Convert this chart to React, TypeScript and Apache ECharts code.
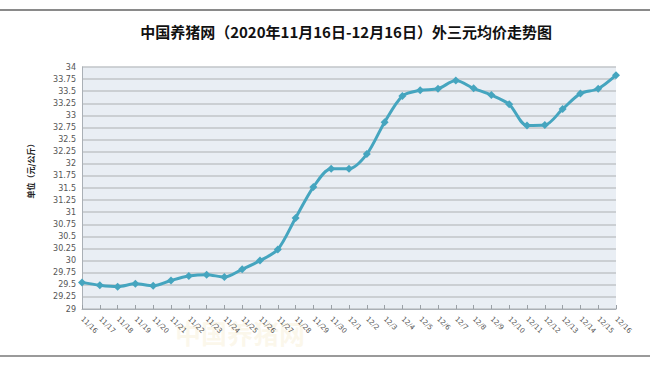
import React, { useEffect, useRef } from "react";
import * as echarts from "echarts";

const titleText = "中国养猪网（2020年11月16日-12月16日）外三元均价走势图";
const yAxisName = "单位（元/公斤）";
const categories = [
  "11/16", "11/17", "11/18", "11/19", "11/20", "11/21", "11/22", "11/23",
  "11/24", "11/25", "11/26", "11/27", "11/28", "11/29", "11/30", "12/1",
  "12/2", "12/3", "12/4", "12/5", "12/6", "12/7", "12/8", "12/9",
  "12/10", "12/11", "12/12", "12/13", "12/14", "12/15", "12/16",
];
const prices = [
  29.55, 29.49, 29.46, 29.52, 29.48, 29.59, 29.68, 29.71,
  29.66, 29.82, 30.0, 30.23, 30.88, 31.52, 31.9, 31.9,
  32.2, 32.86, 33.4, 33.52, 33.55, 33.72, 33.56, 33.42,
  33.23, 32.79, 32.8, 33.13, 33.45, 33.55, 33.83,
];
const yMin = 29;
const yMax = 34;
const yStep = 0.25;

export default function App() {
  const ref = useRef<HTMLDivElement>(null);
  useEffect(() => {
    if (!ref.current) return;
    const chart = echarts.init(ref.current, null, { renderer: "svg" });
    chart.setOption({
      animation: false,
      backgroundColor: "#ffffff",
      title: {
        text: titleText,
        left: 341,
        top: 19,
        textAlign: "center",
        textStyle: {
          fontSize: 15,
          fontWeight: "bold",
          color: "#111",
          fontFamily: "'Noto Sans CJK SC', sans-serif",
        },
      },
      grid: { left: 82, right: 34, top: 67, bottom: 57, show: true, backgroundColor: "#e9eef4", borderWidth: 0 },
      xAxis: {
        type: "category",
        data: categories,
        boundaryGap: false,
        axisLine: { lineStyle: { color: "#aab0b6", width: 1 } },
        axisTick: { show: true, inside: true, length: 4, lineStyle: { color: "#9aa0a6" } },
        axisLabel: {
          rotate: -45,
          interval: 0,
          fontSize: 7,
          color: "#555",
          margin: 9,
          fontFamily: "'DejaVu Sans', sans-serif",
        },
        splitLine: { show: false },
      },
      yAxis: {
        type: "value",
        min: yMin,
        max: yMax,
        interval: yStep,
        axisLine: { show: true, lineStyle: { color: "#aab0b6" } },
        axisTick: { show: false },
        axisLabel: {
          fontSize: 8,
          color: "#555",
          margin: 6,
          fontFamily: "'DejaVu Sans', sans-serif",
        },
        splitLine: { show: true, lineStyle: { color: "#c0c4c8", width: 1.5 } },
      },
      graphic: [
        { type: "rect", shape: { x: 0, y: 9, width: 650, height: 2 }, style: { fill: "#8a8a8a" } },
        { type: "rect", shape: { x: 0, y: 355, width: 650, height: 2 }, style: { fill: "#9a9a9a" } },
        {
          type: "text",
          x: 30,
          y: 169,
          rotation: Math.PI / 2,
          style: {
            text: yAxisName,
            fontSize: 8,
            fontWeight: "bold",
            fill: "#222",
            align: "center",
            verticalAlign: "middle",
            fontFamily: "'Noto Sans CJK SC', sans-serif",
          },
        },
        {
          type: "text",
          x: 240,
          y: 332,
          silent: true,
          style: {
            text: "中国养猪网",
            fontSize: 26,
            fontWeight: "bold",
            fill: "rgba(240, 220, 165, 0.22)",
            align: "center",
            verticalAlign: "middle",
            fontFamily: "'Noto Sans CJK SC', sans-serif",
          },
        },
      ],
      series: [
        {
          type: "line",
          data: prices,
          smooth: 0.3,
          symbol: "diamond",
          symbolSize: 8,
          lineStyle: { color: "#45a5bf", width: 3 },
          itemStyle: { color: "#45a5bf" },
        },
      ],
    });
    return () => chart.dispose();
  }, []);
  return <div ref={ref} style={{ width: 650, height: 366, position: "absolute", left: 0, top: 0 }} />;
}
